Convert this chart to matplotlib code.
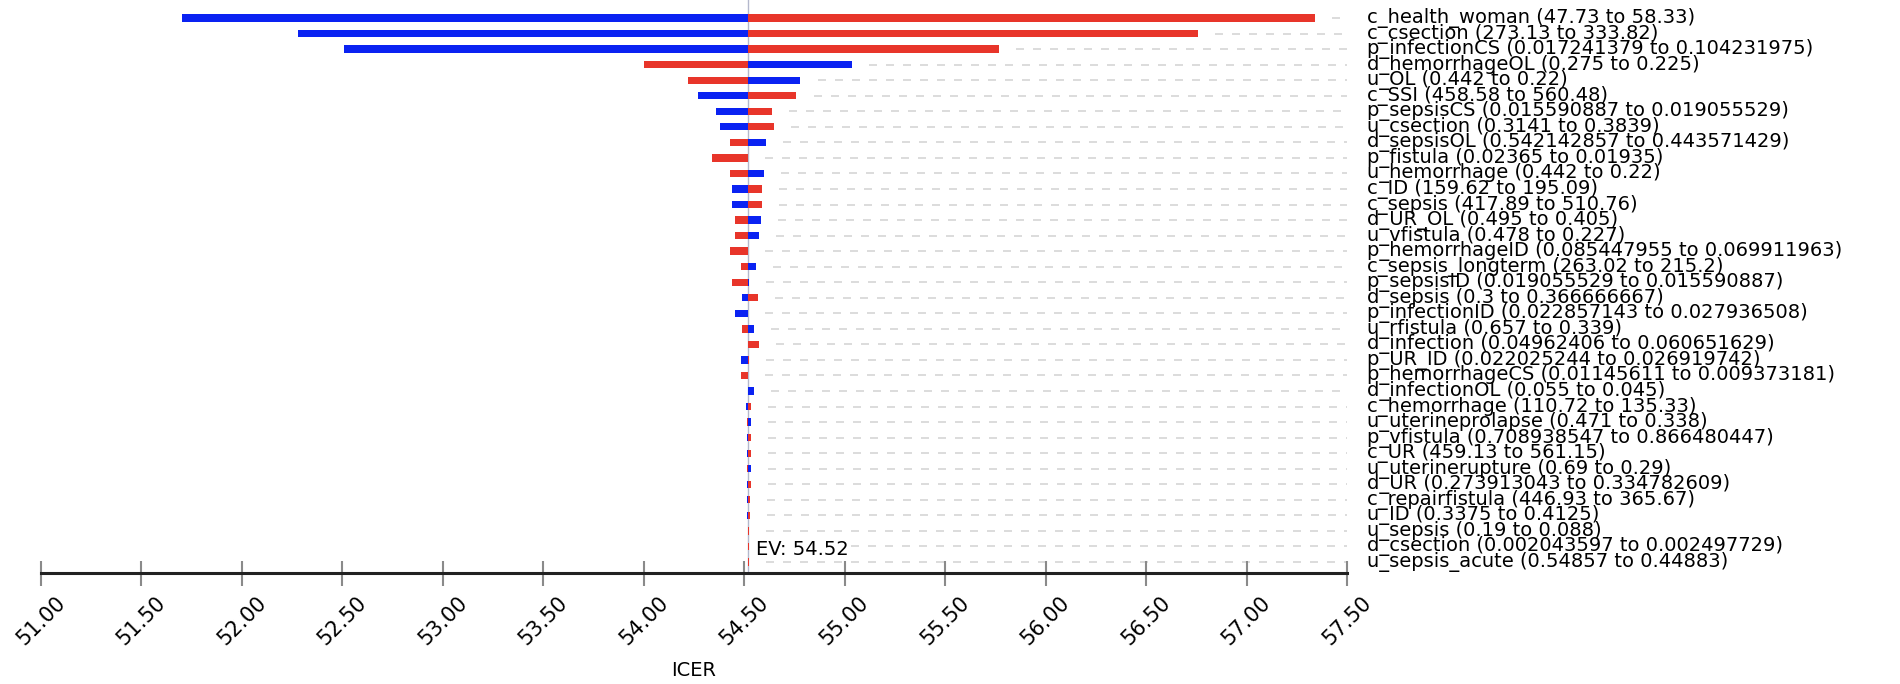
import matplotlib
matplotlib.use("Agg")
import matplotlib.pyplot as plt

# Tornado: ICER at low / high parameter value
parametros = [
    "c_health_woman (47.73 to 58.33)",
    "c_csection (273.13 to 333.82)",
    "p_infectionCS (0.017241379 to 0.104231975)",
    "d_hemorrhageOL (0.275 to 0.225)",
    "u_OL (0.442 to 0.22)",
    "c_SSI (458.58 to 560.48)",
    "p_sepsisCS (0.015590887 to 0.019055529)",
    "u_csection (0.3141 to 0.3839)",
    "d_sepsisOL (0.542142857 to 0.443571429)",
    "p_fistula (0.02365 to 0.01935)",
    "u_hemorrhage (0.442 to 0.22)",
    "c_ID (159.62 to 195.09)",
    "c_sepsis (417.89 to 510.76)",
    "d_UR_OL (0.495 to 0.405)",
    "u_vfistula (0.478 to 0.227)",
    "p_hemorrhageID (0.085447955 to 0.069911963)",
    "c_sepsis_longterm (263.02 to 215.2)",
    "p_sepsisID (0.019055529 to 0.015590887)",
    "d_sepsis (0.3 to 0.366666667)",
    "p_infectionID (0.022857143 to 0.027936508)",
    "u_rfistula (0.657 to 0.339)",
    "d_infection (0.04962406 to 0.060651629)",
    "p_UR_ID (0.022025244 to 0.026919742)",
    "p_hemorrhageCS (0.01145611 to 0.009373181)",
    "d_infectionOL (0.055 to 0.045)",
    "c_hemorrhage (110.72 to 135.33)",
    "u_uterineprolapse (0.471 to 0.338)",
    "p_vfistula (0.708938547 to 0.866480447)",
    "c_UR (459.13 to 561.15)",
    "u_uterinerupture (0.69 to 0.29)",
    "d_UR (0.273913043 to 0.334782609)",
    "c_repairfistula (446.93 to 365.67)",
    "u_ID (0.3375 to 0.4125)",
    "u_sepsis (0.19 to 0.088)",
    "d_csection (0.002043597 to 0.002497729)",
    "u_sepsis_acute (0.54857 to 0.44883)",
]

# ICER com o primeiro valor (azul) e com o segundo valor (vermelho)
icer_azul = [51.70, 52.28, 52.51, 55.035, 54.78, 54.27, 54.36, 54.38, 54.61, 54.52,
             54.60, 54.44, 54.44, 54.585, 54.575, 54.52, 54.56, 54.525, 54.49, 54.455,
             54.55, 54.52, 54.485, 54.52, 54.55, 54.51, 54.535, 54.512, 54.512, 54.535,
             54.515, 54.512, 54.512, 54.518, 54.518, 54.518]
icer_vermelho = [57.34, 56.76, 55.77, 54.00, 54.22, 54.76, 54.64, 54.65, 54.43, 54.34,
                 54.43, 54.59, 54.59, 54.455, 54.455, 54.43, 54.485, 54.44, 54.57, 54.52,
                 54.49, 54.575, 54.525, 54.485, 54.52, 54.535, 54.512, 54.535, 54.535, 54.512,
                 54.535, 54.528, 54.528, 54.525, 54.522, 54.522]

ev = 54.52
ticks = [51.0 + 0.5 * i for i in range(14)]

AZUL = "#0a22f2"
VERMELHO = "#e8352a"


def gerar_grafico():
    fig = plt.figure(figsize=(19, 6.84), dpi=100)
    ax = fig.add_axes([41 / 1900, 1 - 573 / 684, (1347 - 41) / 1900, 573 / 684])

    n = len(parametros)
    ys = list(range(n))
    altura = 0.47

    for y, a, v in zip(ys, icer_azul, icer_vermelho):
        ax.barh(y, a - ev, left=ev, height=altura, color=AZUL, zorder=3)
        ax.barh(y, v - ev, left=ev, height=altura, color=VERMELHO, zorder=3)
        inicio = max(ev, a, v) + 0.085
        ax.plot([inicio, 57.5], [y, y], color="#d6d6d6", lw=1.2,
                dashes=(4.8, 5.4), zorder=1)
        ax.text(57.60, y, parametros[y], fontsize=14, va="center", ha="left",
                clip_on=False)

    ax.axvline(ev, color="#b4b8cc", lw=1, zorder=2)
    ax.text(ev + 0.04, 34.2, f"EV: {ev:.2f}", fontsize=14, va="center", ha="left",
            zorder=4, bbox=dict(facecolor="white", edgecolor="none", pad=0))

    ax.set_xlim(51.0, 57.5)
    ax.set_ylim(35.71, -1.16)
    ax.set_xticks(ticks)
    ax.set_xticklabels([f"{t:.2f}" for t in ticks], rotation=45, ha="center",
                       fontsize=15)
    ax.tick_params(axis="x", direction="inout", length=18, width=1.5,
                   color="#8a8a8a", pad=5)
    ax.set_yticks([])
    for lado in ["top", "left", "right"]:
        ax.spines[lado].set_visible(False)
    ax.spines["bottom"].set_linewidth(2.2)
    ax.spines["bottom"].set_color("#222222")

    fig.text(694 / 1900, 1 - 670 / 684, "ICER", fontsize=14, ha="center", va="center")

    fig.savefig("out.png", dpi=100)


def main():
    gerar_grafico()


if __name__ == "__main__":
    main()
